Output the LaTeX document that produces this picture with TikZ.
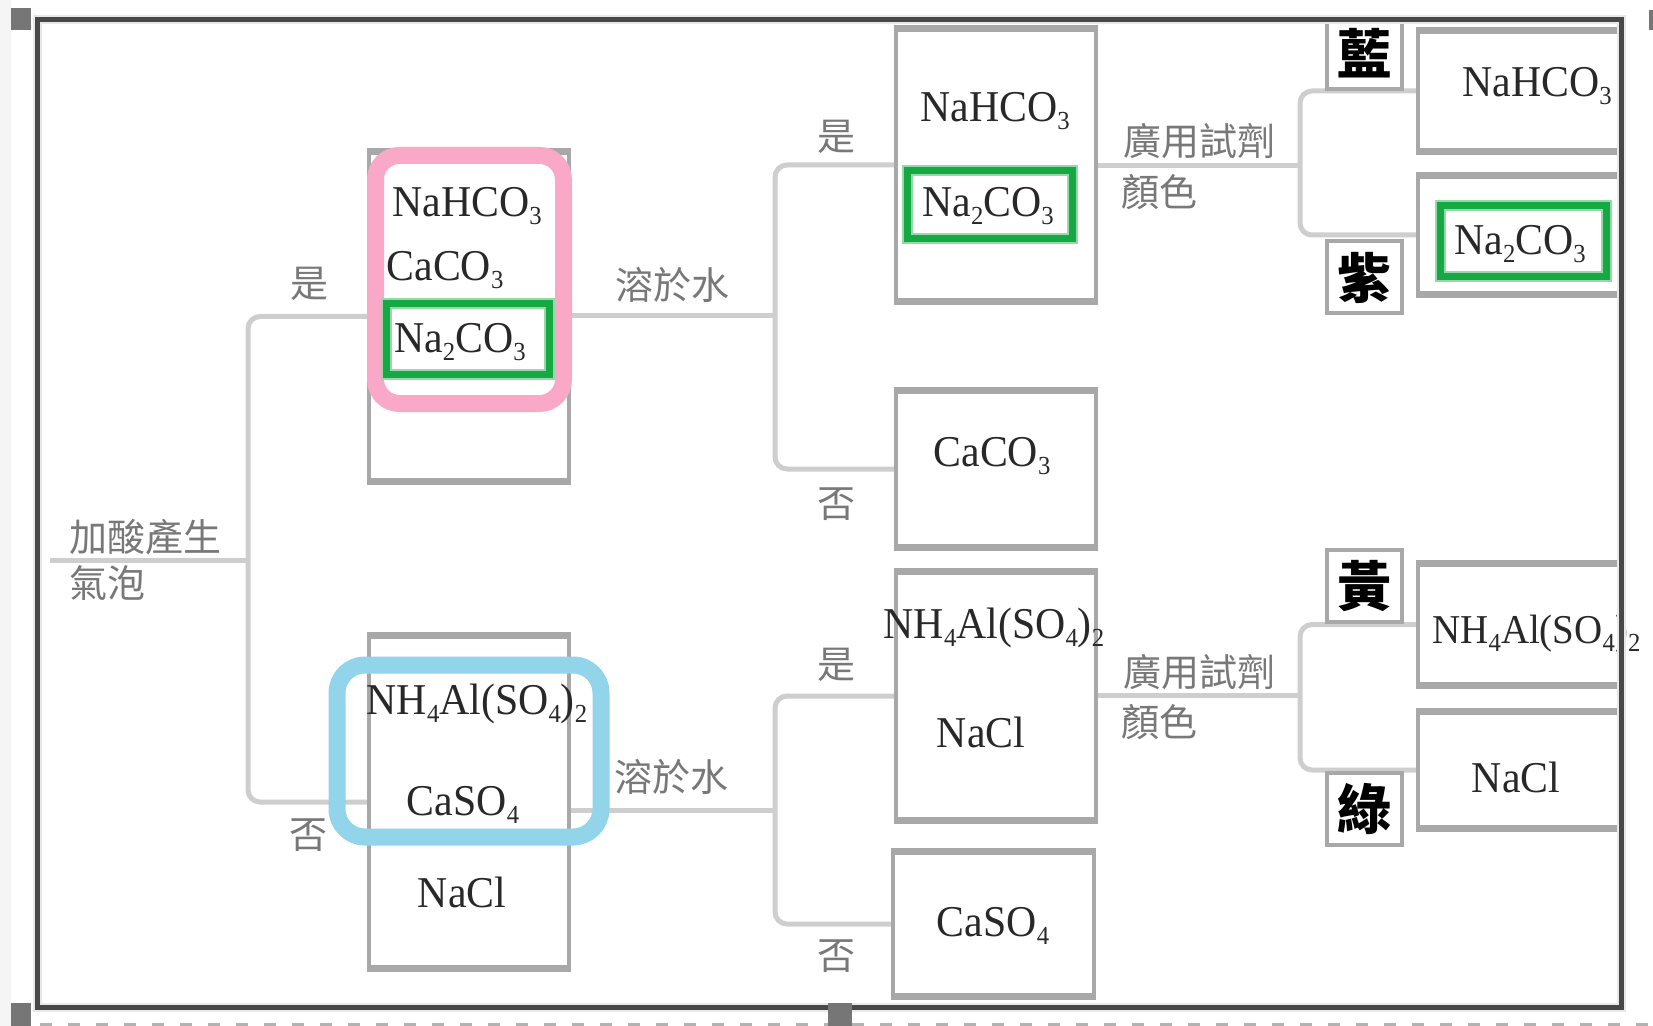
\documentclass[tikz,border=0pt]{standalone}
\usepackage{fontspec}
\setmainfont{Liberation Serif}
\newfontfamily\cjk{Noto Sans CJK TC}
\newfontfamily\chem[FakeStretch=0.95]{Liberation Serif}
\usetikzlibrary{backgrounds}
\definecolor{pinkc}{RGB}{250,168,200}
\definecolor{bluec}{RGB}{146,212,234}
\definecolor{greenc}{RGB}{22,168,66}
\definecolor{boxc}{RGB}{168,168,168}
\definecolor{connc}{RGB}{206,206,206}
\definecolor{framec}{RGB}{72,72,72}
\definecolor{lblc}{RGB}{120,120,120}
\definecolor{txtc}{RGB}{40,40,40}
\definecolor{handlec}{RGB}{118,118,118}
\newcommand\chsb[1]{\raisebox{-0.4ex}{\fontsize{13}{13}\selectfont #1}}
\newcommand\mybox[5]{\node[bx, minimum width=#4*0.5pt, minimum height=#5*0.5pt] (#1) at (#2,#3) {};}
\tikzset{
  bx/.style={draw=boxc, line width=2pt, inner sep=0pt},
  bxedge/.style={draw=boxc, line width=3.2pt},
  conn/.style={draw=connc, line width=2.5pt, rounded corners=6pt},
  ct/.style={font={\chem\fontsize{22}{22}\selectfont}, text=txtc, inner sep=0pt},
  lb/.style={font={\cjk\fontsize{19}{19}\selectfont}, text=lblc, inner sep=0pt},
  cb/.style={draw=boxc, line width=2pt, inner sep=0pt, minimum width=37.5pt, minimum height=36pt, font={\cjk\bfseries\fontsize{27}{27}\selectfont}, text=black},
  hl/.style={line width=8.5pt},
  gbox/.style={draw=greenc, line width=3.5pt},
  gboxhalo/.style={draw=greenc!45, line width=5.5pt}
}
\begin{document}
\begin{tikzpicture}[x=0.5pt,y=-0.5pt]
\useasboundingbox (0,0) rectangle (1653,1026);
% boxes
\mybox{b1}{469}{316.5}{200}{327}
\mybox{b2}{469}{802}{200}{330}
\mybox{b3}{996}{165}{200}{270}
\mybox{b4}{996}{469}{200}{154}
\mybox{b7}{996}{696}{200}{246}
\mybox{b8}{993.5}{924}{201}{142}
\mybox{b5}{1519.5}{91}{203}{118}
\mybox{b6}{1519.5}{235}{203}{116}
\mybox{b9}{1519.5}{624.5}{203}{119}
\mybox{b10}{1519.5}{770}{203}{114}
\foreach \n in {b1,b2,b3,b4,b7,b8,b5,b6,b9,b10}{
  \draw[bxedge] (\n.north west) -- (\n.north east) (\n.south west) -- (\n.south east);
}
% colour label boxes
\node[cb] (lblue) at (1364.5,53.5) {藍};
\node[cb] (lpurple) at (1364.5,277.5) {紫};
\node[cb] (lyellow) at (1364.5,586) {黃};
\node[cb] (lgreen) at (1364.5,809) {綠};
% coordinates for junctions
\coordinate (stem) at (50,560);
\coordinate (j1) at (248,560);
\coordinate (j2) at (775,316);
\coordinate (j3) at (1300,166);
\coordinate (j4) at (775,810);
\coordinate (j5) at (1300,695);
\begin{pgfonlayer}{background}
\fill[white] (0,0) rectangle (1653,1026);
\fill[gray!8] (0,0) rectangle (11,1026);
\draw[conn] (stem) -- (j1);
\draw[conn] (b1.west) -- (b1.west -| j1) -- (b2.west -| j1) -- (b2.west);
\draw[conn] (b1.east |- j2) -- (j2);
\draw[conn] (b3.west) -- (b3.west -| j2) -- (b4.west -| j2) -- (b4.west);
\draw[conn] (b3.east |- j3) -- (j3);
\draw[conn] (b5.west) -- (b5.west -| j3) -- (b6.west -| j3) -- (b6.west);
\draw[conn] (b2.east |- j4) -- (j4);
\draw[conn] (b7.west) -- (b7.west -| j4) -- (b8.west -| j4) -- (b8.west);
\draw[conn] (b7.east |- j5) -- (j5);
\draw[conn] (b9.west) -- (b9.west -| j5) -- (b10.west -| j5) -- (b10.west);
\end{pgfonlayer}
% grey labels
\node[lb] (acid1) at (145,537) {加酸產生};
\node[lb] (acid2) at (107,583) {氣泡};
\node[lb] (yes1) at (309,284) {是};
\node[lb] (no1) at (308,835) {否};
\node[lb] (wat1) at (672,285) {溶於水};
\node[lb] (wat2) at (671,777) {溶於水};
\node[lb] (yes2) at (836,137) {是};
\node[lb] (no2) at (836,504) {否};
\node[lb] (yes3) at (836,665) {是};
\node[lb] (no3) at (836,956) {否};
\node[lb] (rg1) at (1199,141) {廣用試劑};
\node[lb] (col1) at (1159,192) {顏色};
\node[lb] (rg2) at (1199,672) {廣用試劑};
\node[lb] (col2) at (1159,722) {顏色};
% chemical texts
\node[ct] (t1a) at (467,206) {NaHCO\chsb{3}};
\node[ct] (t1b) at (445,270) {CaCO\chsb{3}};
\node[ct] (t1c) at (460,342) {Na\chsb{2}CO\chsb{3}};
\node[ct] (t3a) at (995,111) {NaHCO\chsb{3}};
\node[ct] (t3b) at (988,206) {Na\chsb{2}CO\chsb{3}};
\node[ct] (t4) at (992,456) {CaCO\chsb{3}};
\node[ct] (t5) at (1537,86) {NaHCO\chsb{3}};
\node[ct] (t6) at (1520,244) {Na\chsb{2}CO\chsb{3}};
\node[ct] (t2a) at (477,704) {NH\chsb{4}Al(SO\chsb{4})\chsb{2}};
\node[ct] (t2b) at (463,805) {CaSO\chsb{4}};
\node[ct] (t2c) at (462,892) {NaCl};
\node[ct] (t7a) at (994,628) {NH\chsb{4}Al(SO\chsb{4})\chsb{2}};
\node[ct] (t7b) at (981,732) {NaCl};
\node[ct] (t8) at (993,926) {CaSO\chsb{4}};
\node[ct, anchor=west, font={\chem\fontsize{20.5}{20.5}\selectfont}] (t9) at (1432,634) {NH\chsb{4}Al(SO\chsb{4})\chsb{2}};
\node[ct] (t10) at (1516,777) {NaCl};
% highlights
\draw[pinkc, hl, rounded corners=12pt] (375.5,155.5) rectangle (563.5,403.5);
\draw[bluec, hl, rounded corners=14pt] (337,665) rectangle (601,837);
\draw[gboxhalo] (386.5,303.5) rectangle (549.5,374.5);
\draw[gbox] (386.5,303.5) rectangle (549.5,374.5);
\draw[gboxhalo] (907.5,170.5) rectangle (1072.5,238.5);
\draw[gbox] (907.5,170.5) rectangle (1072.5,238.5);
\draw[gboxhalo] (1440.5,205.5) rectangle (1606.5,276.5);
\draw[gbox] (1440.5,205.5) rectangle (1606.5,276.5);
% frame
\draw[gray!18, line width=4.5pt] (37,19.5) rectangle (1621,1007);
\draw[framec, line width=2.5pt] (37,19.5) rectangle (1621,1007);
% handles and dashed line
\draw[gray!60, line width=1.5pt, dash pattern=on 6pt off 8pt] (40,1024) -- (1653,1024);
\fill[handlec] (11,8) rectangle (31,30);
\fill[handlec] (11,1003) rectangle (31,1026);
\fill[handlec] (828,1003) rectangle (852,1026);
\fill[handlec] (1649,10) rectangle (1653,30);
\end{tikzpicture}
\end{document}
